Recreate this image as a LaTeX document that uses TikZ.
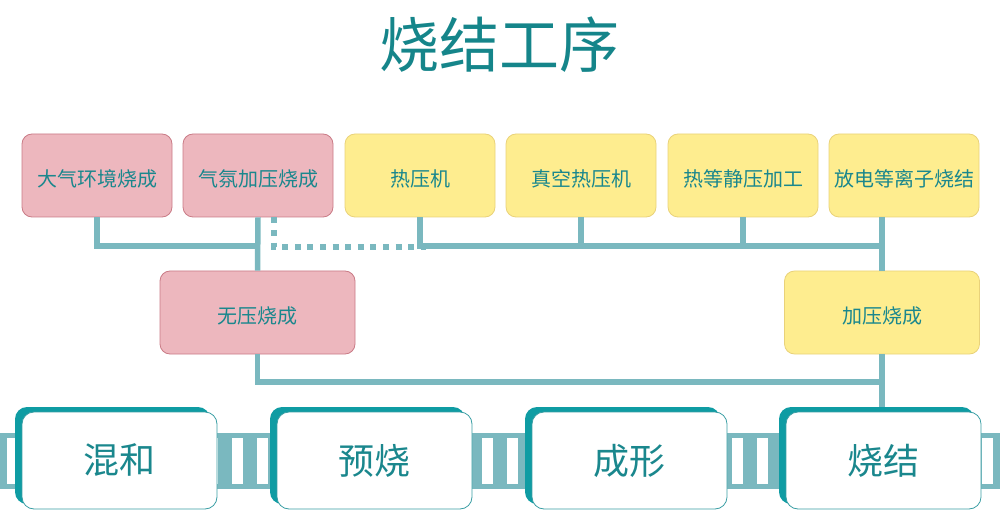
\documentclass[tikz,border=0pt]{standalone}
\usepackage{fontspec}
\setmainfont{Noto Sans CJK SC}
\usetikzlibrary{shadows}
\definecolor{pinkf}{HTML}{EDB7BE}
\definecolor{pinkd}{HTML}{C97B86}
\definecolor{yelf}{HTML}{FEED8F}
\definecolor{yeld}{HTML}{E9D27A}
\definecolor{linec}{HTML}{7AB8BF}
\definecolor{tealtext}{HTML}{1A878D}
\definecolor{titlec}{HTML}{15858A}
\definecolor{shadowc}{HTML}{0F9CA3}
\definecolor{wborder}{HTML}{3A9EA4}
\newcommand{\dnx}[1]{\raisebox{-3pt}[\height][\depth]{#1}}
\tikzset{
  box/.style={rounded corners=10pt, minimum width=150pt, minimum height=83pt, inner sep=0pt,
    font=\fontsize{20}{20}\selectfont, text=tealtext, line width=0.8pt},
  pinkbox/.style={box, fill=pinkf, draw=pinkd},
  yellowbox/.style={box, fill=yelf, draw=yeld},
  widebox/.style={minimum width=195pt},
  stagebox/.style={rounded corners=12pt, minimum width=195pt, minimum height=97pt, inner sep=0pt,
    fill=white, draw=wborder, line width=0.8pt, text=tealtext, font=\fontsize{36}{36}\selectfont,
    general shadow={fill=shadowc, shadow xshift=-7pt, shadow yshift=5pt}},
  conn/.style={draw=linec, line width=5.5pt},
  dotconn/.style={draw=linec, line width=5.5pt, dash pattern=on 6pt off 6.6pt}
}
\begin{document}
\begin{tikzpicture}[x=1pt,y=-1pt]
\useasboundingbox (0,0) rectangle (1000,510);
\node[text=titlec, font=\fontsize{60}{60}\selectfont] (title) at (499,45) {烧结工序};

% conveyor band
\fill[linec] (0,433) rectangle (1000,489);
\foreach \k in {0,...,39}{
  \fill[white] ({7+25*\k},437.5) rectangle ({18+25*\k},484);
}

% top boxes
\node[pinkbox] (t1) at (97,175.5) {\dnx{大气环境烧成}};
\node[pinkbox] (t2) at (258,175.5) {\dnx{气氛加压烧成}};
\node[yellowbox] (t3) at (420,175.5) {\dnx{热压机}};
\node[yellowbox] (t4) at (581,175.5) {\dnx{真空热压机}};
\node[yellowbox] (t5) at (743,175.5) {\dnx{热等静压加工}};
\node[yellowbox] (t6) at (904,175.5) {\dnx{放电等离子烧结}};

% middle boxes
\node[pinkbox, widebox] (m1) at (257.5,312.5) {\dnx{无压烧成}};
\node[yellowbox, widebox] (m2) at (882,312.5) {\dnx{加压烧成}};

% stage boxes
\node[stagebox] (b1) at (119.5,460.5) {混和};
\node[stagebox] (b2) at (374.5,460.5) {预烧};
\node[stagebox] (b3) at (629.5,460.5) {成形};
\node[stagebox] (b4) at (883.5,460.5) {烧结};

\coordinate (h1) at (0,246);
\coordinate (h2) at (0,382);

% left group
\draw[conn] (t2.south) -- (m1.north);
\draw[conn] (t1.south) |- (m1.north |- h1);
% dotted link
\draw[dotconn] ([xshift=16pt]t2.south) |- ([xshift=6pt,yshift=-1pt]t3.south |- h1);
% right group
\draw[conn] (m2.north |- t6.south) -- (m2.north);
\draw[conn] (t3.south) |- (m2.north |- h1);
\draw[conn] (t4.south) -- (t4.south |- h1);
\draw[conn] (t5.south) -- (t5.south |- h1);
% to sintering
\draw[conn] (m1.south) |- (m2.south |- h2);
\draw[conn] (m2.south) -- ([yshift=5pt]b4.north -| m2.south);
\end{tikzpicture}
\end{document}
